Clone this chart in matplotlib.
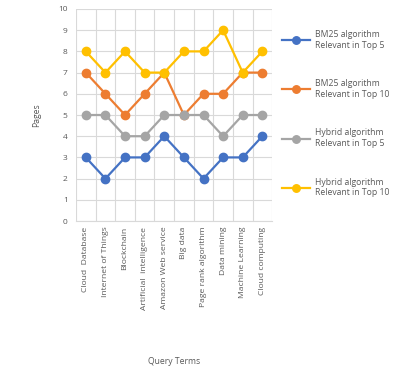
import matplotlib
matplotlib.use("Agg")
import matplotlib.pyplot as plt
import numpy as np

# Query terms and pages per series
terms = ["Cloud  Database", "Internet of Things", "Blockchain", "Artificial  intelligence",
         "Amazon Web service", "Big data", "Page rank algorithm", "Data mining",
         "Machine Learning", "Cloud computing"]
bm25_top5 = [3, 2, 3, 3, 4, 3, 2, 3, 3, 4]
bm25_top10 = [7, 6, 5, 6, 7, 5, 6, 6, 7, 7]
hybrid_top5 = [5, 5, 4, 4, 5, 5, 5, 4, 5, 5]
hybrid_top10 = [8, 7, 8, 7, 7, 8, 8, 9, 7, 8]

labels = ["BM25 algorithm\nRelevant in Top 5", "BM25 algorithm\nRelevant in Top 10",
          "Hybrid algorithm\nRelevant in Top 5", "Hybrid algorithm\nRelevant in Top 10"]
colors = ["#4472C4", "#ED7D31", "#A5A5A5", "#FFC000"]

plt.rcParams["font.family"] = ["Open Sans", "DejaVu Sans"]
text_col = "#595959"

fig = plt.figure(figsize=(4.13, 3.74), dpi=100)
ax = fig.add_axes([0.184, 0.409, 0.475, 0.567])

x = np.arange(len(terms))
for vals, lab, c in zip([bm25_top5, bm25_top10, hybrid_top5, hybrid_top10], labels, colors):
    ax.plot(x, vals, color=c, lw=1.6, marker="o", ms=6, label=lab, zorder=3)

ax.set_xlim(-0.5, len(terms) - 0.5)
ax.set_ylim(0, 10)
ax.set_yticks(range(0, 11))
ax.set_xticks(x)
ax.set_xticklabels(terms, rotation=90, fontsize=6.1, color=text_col)
ax.set_xticks(np.arange(-0.5, len(terms)), minor=True)
ax.tick_params(axis="y", labelsize=6, colors=text_col, length=0, pad=6)
ax.tick_params(axis="x", which="both", length=0, pad=4)
ax.grid(axis="y", which="major", color="#D9D9D9", lw=0.8)
ax.grid(axis="x", which="minor", color="#D9D9D9", lw=0.8)
for s in ["top", "right", "left"]:
    ax.spines[s].set_visible(False)
ax.spines["bottom"].set_color("#D9D9D9")

ax.set_ylabel("Pages", fontsize=6.2, color=text_col, labelpad=12)
ax.set_xlabel("Query Terms", fontsize=6.2, color=text_col, labelpad=34)

fig.legend(loc="upper left", bbox_to_anchor=(0.665, 0.94), frameon=False,
           fontsize=6.2, labelcolor=text_col, handlelength=3.2, labelspacing=3.45,
           handletextpad=0.6, markerscale=0.9)

fig.savefig("out.png", dpi=100)
